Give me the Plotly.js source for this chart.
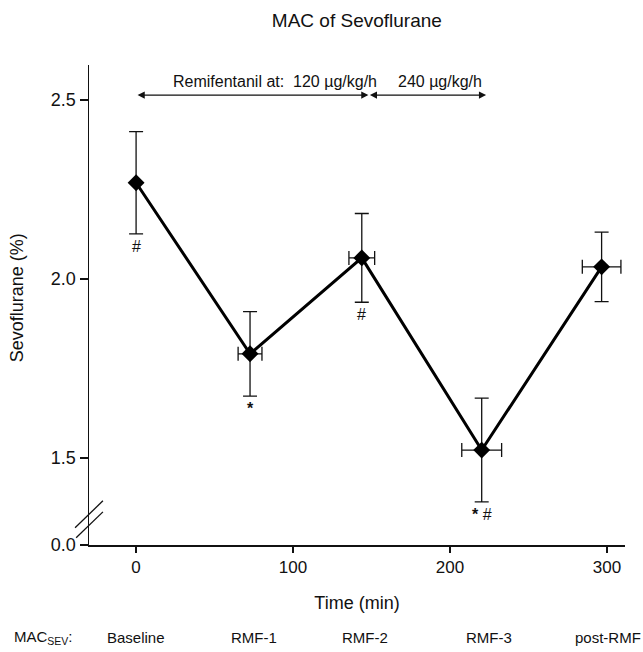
<!DOCTYPE html>
<html>
<head>
<meta charset="utf-8">
<script src="https://cdn.plot.ly/plotly-3.0.1.min.js"></script>
<style>html,body{margin:0;padding:0;background:#fff;}#chart{width:643px;height:652px;}</style>
</head>
<body>
<div id="chart"></div>
<script>
// Data
const phases = ["Baseline", "RMF-1", "RMF-2", "RMF-3", "post-RMF"];
const timeMin = [0, 72.6, 143.8, 220.2, 296.6];
const timeSD = [0, 7.6, 8.2, 12.7, 12.3];
const macSev = [2.269, 1.791, 2.059, 1.522, 2.034];
const macSD = [0.143, 0.118, 0.124, 0.145, 0.097];
const signif = ["#", "<b>*</b>", "#", "<b>*</b> #", ""];
const yTickVals = [1.5, 2.0, 2.5];
const xTickVals = [0, 100, 200, 300];
// Remifentanil infusion periods (min)
const infusionStart = [0, 148];
const infusionEnd = [148, 223];
const infusionLabels = ["Remifentanil at:  120 µg/kg/h", "240 µg/kg/h"];

const FONT = "Liberation Sans, Arial, sans-serif";
const INK = "#111";

const trace = {
  x: timeMin, y: macSev, xaxis: "x", yaxis: "y2",
  type: "scatter", mode: "lines+markers",
  line: {color: "#000", width: 3},
  marker: {symbol: "diamond", size: 13, color: "#000"},
  error_y: {type: "data", array: macSD, visible: true, color: INK, thickness: 1.3, width: 7},
  error_x: {type: "data", array: timeSD, visible: true, color: INK, thickness: 1.3, width: 7},
  hoverinfo: "skip", showlegend: false
};
// empty trace so that the lower (broken) axis segment is drawn
const lowerSegment = {
  x: [null], y: [null], xaxis: "x", yaxis: "y", type: "scatter", mode: "markers",
  hoverinfo: "skip", showlegend: false
};

const annotations = [];
// significance markers under lower error bars
signif.forEach((s, i) => {
  if (!s) return;
  annotations.push({
    x: timeMin[i], y: macSev[i] - macSD[i], xref: "x", yref: "y2",
    text: s, showarrow: false, yanchor: "top", yshift: -2,
    font: {family: FONT, size: 16, color: INK}
  });
});
// infusion arrows
const arrowY = 2.514;
for (let i = 0; i < infusionStart.length; i++) {
  annotations.push({
    x: infusionEnd[i], y: arrowY, ax: infusionStart[i], ay: arrowY,
    xref: "x", yref: "y2", axref: "x", ayref: "y2",
    showarrow: true, arrowhead: 2, arrowside: "end+start",
    arrowsize: 1.1, arrowwidth: 1.3, arrowcolor: INK, text: ""
  });
}
annotations.push({
  x: 88.5, y: arrowY, xref: "x", yref: "y2", xanchor: "center", yanchor: "bottom", yshift: 3,
  text: infusionLabels[0], showarrow: false, font: {family: FONT, size: 16, color: INK}
});
annotations.push({
  x: 193.5, y: arrowY, xref: "x", yref: "y2", xanchor: "center", yanchor: "bottom", yshift: 3,
  text: infusionLabels[1], showarrow: false, font: {family: FONT, size: 16, color: INK}
});
// phase labels below the x axis
const phaseLabelX = [0, 75, 146, 225, 300.5];
phases.forEach((p, i) => {
  annotations.push({
    x: phaseLabelX[i], y: -0.192, xref: "x", yref: "paper", xanchor: "center", yanchor: "middle",
    text: p, showarrow: false, font: {family: FONT, size: 15, color: INK}
  });
});
annotations.push({
  x: -0.084, y: -0.192, xref: "paper", yref: "paper", xanchor: "center", yanchor: "middle",
  text: "MAC<sub>SEV</sub>:", showarrow: false, font: {family: FONT, size: 15, color: INK}
});

// axis break marks
const shapes = [
  {type: "line", xref: "paper", yref: "paper", x0: -0.026, y0: 0.036, x1: 0.026, y1: 0.092, line: {color: INK, width: 1.3}},
  {type: "line", xref: "paper", yref: "paper", x0: -0.024, y0: 0.015, x1: 0.026, y1: 0.069, line: {color: INK, width: 1.3}}
];

const axisCommon = {
  showline: true, linecolor: INK, linewidth: 1.5, ticks: "outside", ticklen: 6,
  tickwidth: 1.5, tickcolor: INK, showgrid: false, zeroline: false,
  tickfont: {family: FONT, size: 17, color: INK}
};
const yTickFont = {family: FONT, size: 18, color: INK};

const layout = {
  width: 643, height: 652,
  margin: {l: 89, r: 18, t: 65, b: 107},
  paper_bgcolor: "#fff", plot_bgcolor: "#fff",
  title: {text: "MAC of Sevoflurane", font: {family: FONT, size: 19, color: INK},
          x: 0.555, xanchor: "center", y: 0.969, yref: "container", yanchor: "middle"},
  xaxis: Object.assign({}, axisCommon, {
    range: [-30, 311.5], tickvals: xTickVals, anchor: "y",
    title: {text: "Time (min)", font: {family: FONT, size: 18, color: INK}, standoff: 20}
  }),
  yaxis: Object.assign({}, axisCommon, {
    domain: [0, 0.03], range: [0, 1], tickvals: [0], ticktext: ["0.0"], anchor: "x",
    ticklen: 8, tickfont: yTickFont
  }),
  yaxis2: Object.assign({}, axisCommon, {
    domain: [0.03, 1], range: [1.297, 2.598], tickvals: yTickVals, tickformat: ".1f", anchor: "x",
    ticklen: 8, tickfont: yTickFont,
    title: {text: "Sevoflurane (%)", font: {family: FONT, size: 18, color: INK}, standoff: 22}
  }),
  annotations: annotations,
  shapes: shapes,
  showlegend: false
};

Plotly.newPlot("chart", [trace, lowerSegment], layout, {displayModeBar: false, staticPlot: true});
</script>
</body>
</html>
